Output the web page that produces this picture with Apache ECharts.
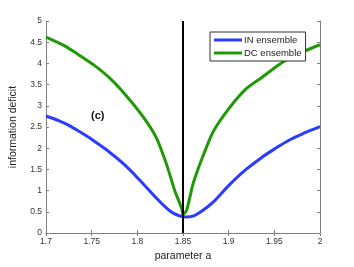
<!DOCTYPE html>
<html><head><meta charset="utf-8">
<script src="https://cdn.jsdelivr.net/npm/echarts@6/dist/echarts.min.js"></script>
<style>html,body{margin:0;padding:0;background:#fff}#c{width:354px;height:267px}</style>
</head><body><div id="c"></div>
<script>
const inX = [1.7, 1.715, 1.725, 1.737, 1.748, 1.7665, 1.785, 1.803, 1.821, 1.832, 1.8394, 1.846, 1.853, 1.861, 1.872, 1.883, 1.9, 1.919, 1.938, 1.95, 1.967, 1.983, 2.0];
const inY = [2.76, 2.64, 2.54, 2.39, 2.24, 1.96, 1.63, 1.24, 0.82, 0.59, 0.47, 0.41, 0.38, 0.40, 0.54, 0.73, 1.12, 1.50, 1.81, 1.98, 2.20, 2.36, 2.51];
const dcX = [1.7, 1.72, 1.734, 1.7526, 1.771, 1.789, 1.807, 1.821, 1.832, 1.841, 1.8486, 1.85, 1.854, 1.861, 1.8705, 1.883, 1.9, 1.919, 1.937, 1.955, 1.974, 2.0];
const dcY = [4.62, 4.42, 4.23, 3.96, 3.63, 3.21, 2.72, 2.24, 1.62, 1.00, 0.58, 0.43, 0.54, 1.16, 1.74, 2.39, 2.93, 3.40, 3.68, 3.97, 4.21, 4.44];
const criticalA = 1.85;
const seriesNames = ['IN ensemble', 'DC ensemble'];
const xTitle = 'parameter a';
const yTitle = 'information deficit';
const panelLabel = '(c)';

const font = 'Liberation Sans, Arial, sans-serif';
const axisCol = '#808080';
const chart = echarts.init(document.getElementById('c'));
const grid = {left: 46, right: 34, top: 21, bottom: 30};
const xBase = {type: 'value', min: 1.7, max: 2, interval: 0.05,
  axisLine: {show: true, lineStyle: {color: axisCol, width: 1}},
  axisTick: {show: true, inside: true, length: 3, lineStyle: {color: axisCol}},
  splitLine: {show: false}};
const yBase = {type: 'value', min: 0, max: 5, interval: 0.5,
  axisLine: {show: true, lineStyle: {color: axisCol, width: 1}},
  axisTick: {show: true, inside: true, length: 3, lineStyle: {color: axisCol}},
  splitLine: {show: false}};
chart.setOption({
  animation: false,
  grid: grid,
  legend: {
    data: seriesNames, orient: 'vertical', left: 210, top: 32,
    itemWidth: 28, itemHeight: 3, itemGap: 3, padding: [3, 4, 3, 4],
    backgroundColor: '#fff', borderColor: '#333', borderWidth: 1, borderRadius: 0,
    icon: 'rect',
    textStyle: {fontFamily: font, fontSize: 9.5, color: '#222', padding: [0, 0, 0, -3]}
  },
  xAxis: [
    Object.assign({}, xBase, {position: 'bottom', name: xTitle, nameLocation: 'middle', nameGap: 15,
      nameTextStyle: {fontFamily: font, fontSize: 10.5, color: '#222'},
      axisLabel: {fontFamily: font, fontSize: 8.5, color: '#333', margin: 4,
        formatter: v => String(parseFloat(v.toFixed(2)))}}),
    Object.assign({}, xBase, {position: 'top', axisLabel: {show: false}})
  ],
  yAxis: [
    Object.assign({}, yBase, {position: 'left', name: yTitle, nameLocation: 'middle', nameGap: 27,
      nameTextStyle: {fontFamily: font, fontSize: 10.5, color: '#222'},
      axisLabel: {fontFamily: font, fontSize: 8.5, color: '#333', margin: 4,
        formatter: v => String(parseFloat(v.toFixed(1)))}}),
    Object.assign({}, yBase, {position: 'right', axisLabel: {show: false}})
  ],
  graphic: [{type: 'text', left: 91, top: 110,
    style: {text: panelLabel, font: 'bold 11px ' + font, fill: '#111'}}],
  series: [
    {name: seriesNames[0], type: 'line', data: inX.map((x, i) => [x, inY[i]]),
     smooth: 0.35, showSymbol: false, lineStyle: {color: '#2a3cff', width: 3}, itemStyle: {color: '#2a3cff'}, z: 3,
     markLine: {silent: true, symbol: 'none', label: {show: false},
       lineStyle: {color: '#000', width: 2, type: 'solid'}, data: [{xAxis: criticalA}]}},
    {name: seriesNames[1], type: 'line', data: dcX.map((x, i) => [x, dcY[i]]),
     smooth: 0.2, showSymbol: false, lineStyle: {color: '#1f9a06', width: 3}, itemStyle: {color: '#1f9a06'}, z: 2}
  ]
});
</script></body></html>
